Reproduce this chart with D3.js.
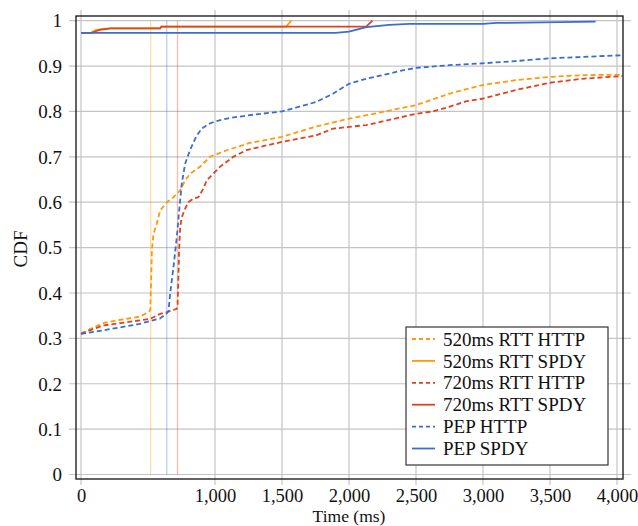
<!DOCTYPE html>
<html>
<head>
<meta charset="utf-8">
<script src="https://cdn.jsdelivr.net/npm/d3@7"></script>
<style>
  html, body { margin: 0; padding: 0; background: #fff; }
  svg text { font-family: "Liberation Serif", "Times New Roman", serif; fill: #111; }
</style>
</head>
<body>
<svg id="chart" width="638" height="526"></svg>
<script>
// ---- Data ----
const xTicks = [0, 1000, 1500, 2000, 2500, 3000, 3500, 4000];
const yTicks = [0, 0.1, 0.2, 0.3, 0.4, 0.5, 0.6, 0.7, 0.8, 0.9, 1];
const seriesNames = ["520ms RTT HTTP", "520ms RTT SPDY", "720ms RTT HTTP", "720ms RTT SPDY", "PEP HTTP", "PEP SPDY"];
const seriesColors = ["#ff9a0a", "#ff9a0a", "#e2411e", "#e2411e", "#3a6cd4", "#3a6cd4"];
const seriesDashed = [true, false, true, false, true, false];

// RTT reference lines (ms)
const refLines = [520, 640, 720];
const refColors = ["#ff9a0a", "#3a6cd4", "#e2411e"];

// [time ms, CDF]
const http520 = [[0,0.311],[100,0.325],[170,0.334],[294,0.341],[442,0.348],[505,0.358],[517,0.362],[524,0.435],[529,0.494],[541,0.531],[566,0.553],[591,0.582],[641,0.600],[690,0.611],[740,0.626],[777,0.648],[814,0.663],[888,0.678],[963,0.700],[1087,0.7145],[1260,0.7306],[1500,0.744],[1756,0.767],[2000,0.784],[2252,0.799],[2500,0.814],[2747,0.839],[2995,0.858],[3243,0.869],[3491,0.876],[3738,0.880],[4040,0.881]];
const spdy520 = [[0,0.973],[70,0.973],[110,0.979],[160,0.982],[220,0.983],[590,0.983],[600,0.987],[1530,0.987],[1570,1.0]];
const http720 = [[0,0.31],[95,0.321],[170,0.3286],[294,0.3336],[517,0.343],[591,0.354],[641,0.358],[715,0.365],[720,0.369],[727,0.435],[732,0.494],[740,0.545],[752,0.567],[777,0.586],[802,0.6],[839,0.608],[876,0.611],[913,0.630],[938,0.648],[987,0.663],[1037,0.678],[1136,0.700],[1236,0.715],[1500,0.733],[1756,0.7475],[1880,0.762],[2000,0.766],[2128,0.77],[2252,0.778],[2500,0.795],[2624,0.800],[2747,0.81],[2871,0.822],[2995,0.828],[3243,0.847],[3491,0.863],[3738,0.872],[4040,0.878]];
const spdy720 = [[0,0.973],[80,0.973],[140,0.98],[220,0.983],[590,0.983],[600,0.987],[2128,0.987],[2175,1.0]];
const httpPep = [[0,0.31],[170,0.318],[440,0.332],[590,0.344],[636,0.354],[653,0.36],[665,0.398],[690,0.457],[715,0.523],[735,0.589],[752,0.641],[777,0.685],[814,0.715],[860,0.745],[900,0.762],[950,0.772],[1000,0.778],[1100,0.785],[1260,0.792],[1500,0.80],[1756,0.821],[1880,0.839],[2000,0.861],[2128,0.872],[2252,0.880],[2375,0.889],[2500,0.896],[2747,0.902],[2995,0.906],[3243,0.911],[3491,0.917],[3738,0.920],[4040,0.924]];
const spdyPep = [[0,0.973],[1900,0.973],[2000,0.976],[2130,0.986],[2300,0.991],[2450,0.993],[3000,0.993],[3100,0.995],[3840,0.998]];

const seriesData = [http520, spdy520, http720, spdy720, httpPep, spdyPep];

// ---- Layout ----
const svg = d3.select("#chart");
const frame = {left: 76, right: 623, top: 16, bottom: 479};
const x = d3.scaleLinear().domain([0, 4000]).range([81, 617]);
const y = d3.scaleLinear().domain([0, 1]).range([474.5, 20.7]);
const fontSize = 19;

// grid lines (extend slightly past the frame like tick marks)
const grid = svg.append("g").attr("stroke", "#c4c4c4").attr("stroke-width", 1.2);
grid.selectAll("line.gx").data(xTicks).join("line")
  .attr("x1", d => x(d)).attr("x2", d => x(d))
  .attr("y1", 10).attr("y2", 485);
grid.selectAll("line.gy").data(yTicks).join("line")
  .attr("y1", d => y(d)).attr("y2", d => y(d))
  .attr("x1", 69).attr("x2", 631);

// reference vertical lines
svg.append("g").selectAll("line").data(refLines).join("line")
  .attr("x1", d => x(d)).attr("x2", d => x(d))
  .attr("y1", y(0)).attr("y2", y(1))
  .attr("stroke", (d, i) => refColors[i])
  .attr("stroke-opacity", 0.35)
  .attr("stroke-width", 1.3);

// series
const line = d3.line().x(d => x(d[0])).y(d => y(d[1]));
svg.append("g").selectAll("path").data(seriesData).join("path")
  .attr("d", line)
  .attr("fill", "none")
  .attr("stroke", (d, i) => seriesColors[i])
  .attr("stroke-width", 1.8)
  .attr("stroke-dasharray", (d, i) => seriesDashed[i] ? "5,3" : null);

// frame
svg.append("rect")
  .attr("x", frame.left).attr("y", frame.top)
  .attr("width", frame.right - frame.left).attr("height", frame.bottom - frame.top)
  .attr("fill", "none").attr("stroke", "#111").attr("stroke-width", 1.3);

// axes labels via d3 axes (ticks hidden, grid acts as tick marks)
const xAxis = d3.axisBottom(x).tickValues(xTicks).tickFormat(d3.format(",")).tickSize(0).tickPadding(0);
const gx = svg.append("g").attr("transform", "translate(0,502)").call(xAxis);
gx.select(".domain").remove();
gx.selectAll("text").attr("dy", 0).attr("font-size", 18.5).style("font-family", "Liberation Serif");

const yAxis = d3.axisLeft(y).tickValues(yTicks).tickFormat(d => d3.format("")(d)).tickSize(0).tickPadding(0);
const gy = svg.append("g").attr("transform", "translate(62,0)").call(yAxis);
gy.select(".domain").remove();
gy.selectAll("text").attr("dy", "0.33em").attr("font-size", fontSize).style("font-family", "Liberation Serif");

svg.append("text").attr("x", 349).attr("y", 521.5).attr("text-anchor", "middle")
  .attr("font-size", 17.5).text("Time (ms)");
svg.append("text").attr("transform", "translate(27,249) rotate(-90)").attr("text-anchor", "middle")
  .attr("font-size", fontSize).text("CDF");

// legend
const leg = svg.append("g");
leg.append("rect").attr("x", 406).attr("y", 327).attr("width", 202).attr("height", 138)
  .attr("fill", "#fff").attr("stroke", "#222").attr("stroke-width", 1.1);
const rows = leg.selectAll("g.row").data(seriesNames).join("g")
  .attr("transform", (d, i) => `translate(0,${339 + i * 21.9})`);
rows.append("line").attr("x1", 412).attr("x2", 435).attr("y1", 0).attr("y2", 0)
  .attr("stroke", (d, i) => seriesColors[i]).attr("stroke-width", 1.8)
  .attr("stroke-dasharray", (d, i) => seriesDashed[i] ? "4,3" : null);
rows.append("text").attr("x", 443).attr("y", 0).attr("dy", "0.35em")
  .attr("font-size", fontSize).text(d => d);
</script>
</body>
</html>
